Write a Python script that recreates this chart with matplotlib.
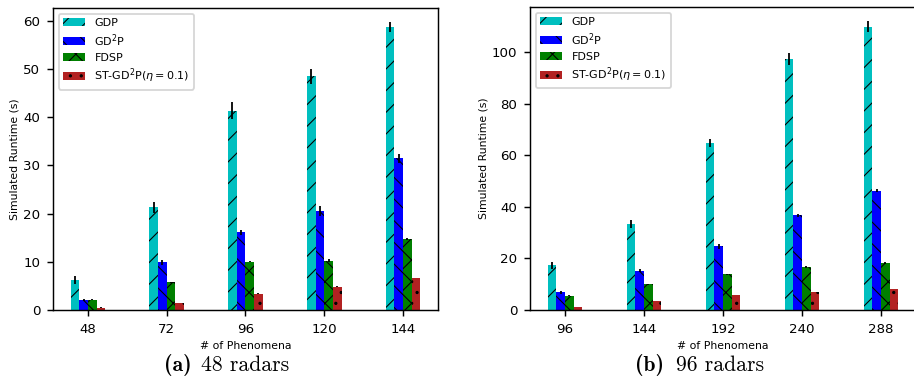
import matplotlib
matplotlib.use("Agg")
import matplotlib.pyplot as plt
import numpy as np

labels_a = ["48", "72", "96", "120", "144"]
gdp_a = [6.2, 21.3, 41.4, 48.5, 58.7]
gdp_a_err = [0.8, 1.1, 1.8, 1.6, 1.0]
gd2p_a = [2.1, 9.9, 16.1, 20.5, 31.5]
gd2p_a_err = [0.2, 0.5, 0.5, 1.0, 0.9]
fdsp_a = [2.15, 5.75, 10.0, 10.2, 14.8]
fdsp_a_err = [0.1, 0.1, 0.1, 0.3, 0.2]
st_a = [0.5, 1.45, 3.4, 4.85, 6.65]
st_a_err = [0.05, 0.05, 0.05, 0.05, 0.05]

labels_b = ["96", "144", "192", "240", "288"]
gdp_b = [17.3, 33.3, 64.8, 97.3, 110.0]
gdp_b_err = [1.2, 1.5, 1.5, 2.3, 2.0]
gd2p_b = [6.9, 15.3, 24.8, 36.7, 46.3]
gd2p_b_err = [0.6, 0.7, 1.0, 0.6, 0.5]
fdsp_b = [5.6, 9.9, 13.8, 16.6, 18.2]
fdsp_b_err = [0.1, 0.1, 0.1, 0.3, 0.3]
st_b = [1.2, 3.5, 5.7, 7.0, 8.1]
st_b_err = [0.05, 0.05, 0.05, 0.05, 0.05]

names = ["GDP", "GD$^2$P", "FDSP", r"ST-GD$^2$P($\eta=0.1$)"]
colors = ["c", "b", "g", "firebrick"]
hatches = ["//", "\\\\", "xx", ".."]

plt.rcParams["hatch.linewidth"] = 0.6
plt.rcParams["font.size"] = 6

dpi = 130
fig = plt.figure(figsize=(914 / dpi, 382 / dpi), dpi=dpi)
ax1 = fig.add_axes([0.058, 0.1885, 0.421, 0.7905])
ax2 = fig.add_axes([0.5799, 0.1885, 0.4223, 0.7932])

w = 0.11


def draw(ax, labels, series, errs):
    x = np.arange(len(labels))
    for i in range(4):
        ax.bar(x + (i - 1.5) * w, series[i], w, yerr=errs[i], color=colors[i],
               hatch=hatches[i], label=names[i],
               error_kw=dict(elinewidth=1.0, capsize=0, ecolor="black"))
    ax.set_xticks(x)
    ax.set_xticklabels(labels)
    ax.set_xlabel("# of Phenomena", labelpad=3)
    ax.set_ylabel("Simulated Runtime (s)", labelpad=2)
    ax.legend(loc="upper left", fontsize=6.2, labelspacing=0.35)
    ax.tick_params(labelsize=7.4)


draw(ax1, labels_a, [gdp_a, gd2p_a, fdsp_a, st_a],
     [gdp_a_err, gd2p_a_err, fdsp_a_err, st_a_err])
draw(ax2, labels_b, [gdp_b, gd2p_b, fdsp_b, st_b],
     [gdp_b_err, gd2p_b_err, fdsp_b_err, st_b_err])
ax1.set_yticks([0, 10, 20, 30, 40, 50, 60])
ax2.set_yticks([0, 20, 40, 60, 80, 100])

fig.text(0.1947, 0.029, "(a)", fontfamily="cmb10", fontsize=12, ha="center")
fig.text(0.2686, 0.029, "48 radars", fontfamily="cmr10", fontsize=12, ha="center")
fig.text(0.7106, 0.029, "(b)", fontfamily="cmb10", fontsize=12, ha="center")
fig.text(0.7877, 0.029, "96 radars", fontfamily="cmr10", fontsize=12, ha="center")

fig.savefig("out.png", dpi=dpi)
